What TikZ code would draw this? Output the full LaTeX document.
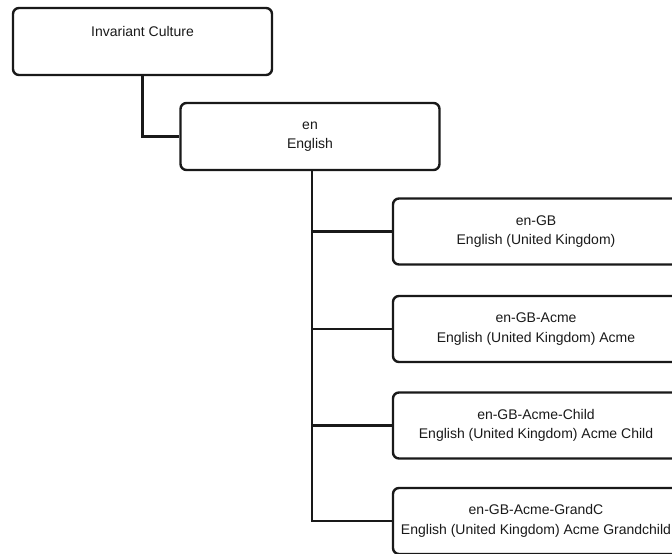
\documentclass[tikz,border=0pt]{standalone}
\usepackage{fontspec}
\setmainfont{Liberation Sans}
\begin{document}
\begin{tikzpicture}[x=1pt,y=-1pt,
  box/.style={draw=black!90, line width=2.4pt, rounded corners=6pt, align=center,
    inner sep=0pt, font=\fontsize{14}{19.5}\selectfont, text=black!90},
  wide/.style={box, minimum width=259pt, minimum height=67pt},
  wider/.style={box, minimum width=286pt, minimum height=66pt},
  link/.style={draw=black!90, line width=2.4pt}]
\clip (0,0) rectangle (672,554);
\node[wide] (inv) at (142.5,41.5) {Invariant Culture\\\mbox{}};
\node[wide] (en) at (310,136.5) {en\\English};
\node[wider] (gb) at (536,231.5) {en-GB\\English (United Kingdom)};
\node[wider] (acme) at (536,329) {en-GB-Acme\\English (United Kingdom) Acme};
\node[wider] (child) at (536,425.5) {en-GB-Acme-Child\\English (United Kingdom) Acme Child};
\node[wider] (grand) at (536,521) {en-GB-Acme-GrandC\\English (United Kingdom) Acme Grandchild};
\coordinate (trunk) at ([xshift=2pt]en.south);
\path[link] (inv.south) |- (en.west);
\path[link] (trunk) |- (gb.west);
\path[link] (trunk) |- (acme.west);
\path[link] (trunk) |- (child.west);
\path[link] (trunk) |- (grand.west);
\end{tikzpicture}
\end{document}
